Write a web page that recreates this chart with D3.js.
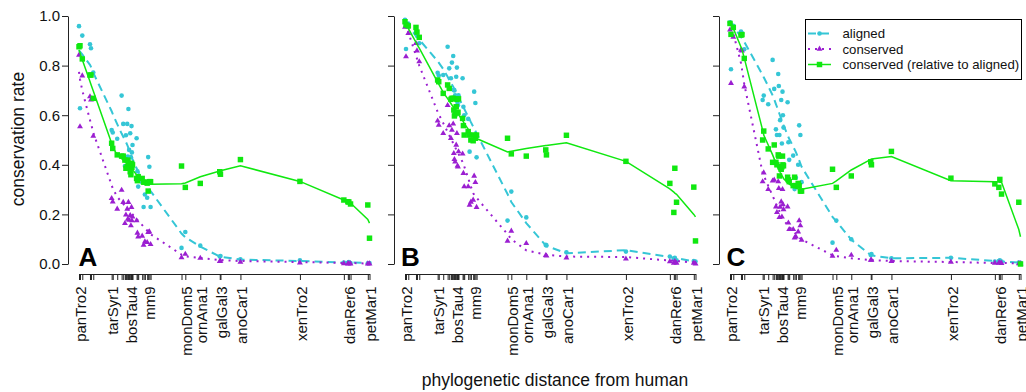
<!DOCTYPE html>
<html><head><meta charset="utf-8">
<script src="https://cdn.jsdelivr.net/npm/d3@7"></script>
<style>body{margin:0;background:#fff}svg{display:block}text{font-family:"Liberation Sans",Arial,Helvetica,sans-serif}</style>
</head><body><svg id="c" width="1026" height="392"></svg>
<script>
// ---------------- data ----------------
const species = ["panTro2","gorGor1","ponAbe2","rheMac2","papHam1","calJac1","tarSyr1","micMur1","otoGar1","tupBel1","speTri1","proCap1","oryCun2","cavPor3","vicPac1","turTru1","dasNov2","bosTau4","equCab2","choHof1","felCat3","canFam2","myoLuc1","pteVam1","loxAfr3","eriEur1","sorAra1","echTel1","ochPri2","mm9","dipOrd1","rn4","macEug1","monDom5","ornAna1","galGal3","taeGut1","anoCar1","xenTro2","tetNig2","danRer6","fr2","gasAcu1","oryLat2","petMar1"];
const distance = [0.010,0.020,0.043,0.120,0.130,0.153,0.337,0.348,0.393,0.437,0.453,0.470,0.480,0.493,0.499,0.505,0.512,0.523,0.530,0.536,0.540,0.546,0.587,0.595,0.603,0.643,0.657,0.670,0.693,0.703,0.715,0.727,1.037,1.075,1.225,1.420,1.427,1.627,2.223,2.663,2.703,2.713,2.730,2.903,2.920];
const labelledSpecies = ["panTro2","tarSyr1","bosTau4","mm9","monDom5","ornAna1","galGal3","anoCar1","xenTro2","danRer6","petMar1"];
const yTicks = [0,0.2,0.4,0.6,0.8,1.0];
const panelLetters = ["A","B","C"];
const legendLabels = ["aligned","conserved","conserved (relative to aligned)"];

// Panel A
const alignedA   = [.959,.628,.921,.886,.870,.772,.540,.530,.505,.679,.565,.395,.519,.565,.433,.625,.460,.527,.430,.556,.450,.480,.507,.374,.312,.330,.230,.280,.267,.431,.392,.230,.065,.129,.074,.030,.032,.019,.015,.006,.005,.008,.004,.003,.004];
const conservedA = [.843,.554,.759,.675,.662,.516,.265,.251,.222,.298,.249,.164,.198,.222,.181,.249,.177,.196,.155,.229,.175,.190,.175,.125,.110,.113,.076,.090,.087,.128,.130,.079,.026,.040,.024,.011,.012,.008,.005,.002,.001,.002,.001,.001,.001];
const relativeA  = [.876,.880,.827,.762,.762,.668,.487,.466,.440,.435,.435,.419,.386,.392,.419,.406,.386,.372,.360,.406,.390,.400,.345,.336,.352,.345,.330,.330,.326,.294,.332,.332,.395,.309,.325,.372,.362,.421,.333,.258,.251,.250,.242,.238,.104];
const alignedFitA   = [.862,.856,.845,.803,.795,.771,.616,.605,.564,.526,.513,.5,.492,.48,.474,.467,.46,.448,.44,.434,.43,.423,.386,.379,.372,.345,.336,.327,.313,.307,.3,.294,.123,.108,.07,.03,.029,.018,.012,.006,.006,.006,.006,.004,.003];
const conservedFitA = [.775,.745,.7,.58,.567,.53,.318,.305,.27,.25,.243,.235,.231,.226,.223,.22,.217,.212,.209,.206,.204,.2,.182,.178,.174,.157,.151,.145,.135,.131,.126,.12,.038,.031,.024,.016,.016,.012,.008,.004,.004,.004,.004,.002,.002];
const relativeFitA  = [.863,.852,.824,.736,.724,.698,.487,.47,.44,.425,.418,.412,.408,.402,.4,.397,.394,.39,.386,.384,.382,.38,.36,.357,.354,.34,.336,.332,.326,.324,.323,.322,.324,.327,.352,.375,.376,.396,.333,.258,.252,.25,.246,.18,.165];

// Panel B
const alignedB   = [.985,.867,.97,.935,.92,.89,.771,.76,.762,.876,.789,.749,.812,.839,.702,.70,.68,.755,.792,.65,.64,.68,.749,.634,.60,.585,.453,.50,.52,.695,.649,.43,.175,.292,.188,.077,.075,.047,.05,.03,.02,.025,.015,.012,.01];
const conservedB = [.955,.836,.93,.89,.86,.816,.577,.56,.527,.64,.558,.507,.54,.565,.446,.422,.412,.48,.527,.396,.392,.453,.444,.366,.312,.312,.238,.25,.258,.355,.329,.229,.093,.133,.083,.035,.033,.025,.021,.01,.004,.01,.004,.004,.001];
const relativeB  = [.977,.964,.96,.954,.935,.914,.742,.735,.688,.722,.708,.664,.668,.668,.621,.597,.606,.634,.664,.61,.612,.666,.587,.558,.52,.534,.52,.5,.497,.52,.507,.52,.507,.444,.435,.46,.44,.519,.414,.325,.208,.386,.249,.31,.093];
const alignedFitB   = [.975,.97,.958,.92,.915,.905,.818,.812,.786,.755,.742,.73,.724,.715,.71,.706,.7,.691,.685,.68,.677,.672,.639,.632,.626,.594,.583,.572,.554,.546,.536,.527,.282,.25,.165,.075,.073,.043,.056,.028,.025,.024,.023,.011,.01];
const conservedFitB = [.965,.957,.935,.84,.828,.8,.613,.604,.568,.532,.519,.505,.497,.487,.482,.477,.471,.462,.457,.452,.449,.444,.411,.404,.394,.346,.329,.313,.285,.28,.273,.267,.12,.1,.055,.038,.037,.03,.028,.014,.013,.013,.012,.006,.005];
const relativeFitB  = [.975,.968,.95,.894,.886,.87,.733,.725,.692,.667,.657,.647,.641,.634,.63,.627,.623,.618,.614,.61,.606,.602,.578,.573,.567,.544,.535,.527,.518,.514,.51,.506,.452,.455,.466,.478,.478,.489,.414,.303,.29,.286,.281,.2,.19];

// Panel C
const alignedC   = [.975,.785,.96,.937,.93,.866,.661,.679,.644,.823,.706,.543,.52,.766,.718,.52,.58,.661,.486,.695,.60,.55,.652,.491,.42,.437,.302,.348,.40,.559,.52,.33,.086,.175,.1,.036,.04,.023,.025,.01,.012,.015,.01,.006,.005];
const conservedC = [.944,.729,.915,.863,.86,.715,.332,.368,.301,.335,.339,.231,.208,.332,.305,.188,.23,.251,.19,.301,.24,.22,.231,.166,.14,.14,.106,.11,.13,.175,.155,.097,.032,.056,.036,.016,.016,.011,.008,.004,.004,.005,.003,.002,.001];
const relativeC  = [.97,.926,.954,.923,.925,.829,.5,.536,.464,.41,.48,.41,.40,.44,.435,.355,.392,.382,.392,.435,.40,.396,.35,.339,.332,.316,.35,.316,.325,.316,.294,.294,.382,.309,.355,.412,.40,.454,.346,.323,.309,.341,.282,.249,.0];
const alignedFitC   = [.98,.975,.96,.915,.91,.896,.762,.753,.717,.68,.664,.645,.634,.62,.613,.606,.598,.586,.578,.571,.567,.56,.519,.512,.505,.473,.462,.451,.429,.418,.405,.392,.19,.172,.098,.036,.035,.023,.025,.012,.011,.01,.01,.006,.005];
const conservedFitC = [.98,.965,.93,.81,.785,.725,.367,.357,.315,.275,.26,.244,.235,.223,.218,.212,.206,.196,.189,.184,.18,.176,.158,.154,.151,.133,.127,.121,.111,.107,.103,.099,.035,.032,.023,.016,.016,.012,.008,.004,.004,.004,.004,.003,.003];
const relativeFitC  = [.98,.97,.95,.875,.865,.83,.54,.52,.48,.44,.424,.405,.396,.386,.38,.376,.37,.362,.357,.352,.35,.345,.328,.325,.322,.313,.31,.306,.303,.302,.301,.301,.325,.335,.379,.422,.423,.433,.336,.332,.331,.33,.33,.139,.11];

// ---------------- layout ----------------
const svg = d3.select("#c");
const panelLeft = [79, 405, 730], panelWidth = 290.5;
const letterX = [78.5, 401, 726.5];
const yTop = 16, yBottom = 264, xAxisY = 274;
const FONT = '"Liberation Sans",Arial,Helvetica,sans-serif';
const col = {aligned:"#35c6d6", conserved:"#9b1fd1", relative:"#10e810"};
const y = d3.scaleLinear().domain([0,1]).range([yBottom, yTop]);
const labelSet = new Set(labelledSpecies);

const panels = [
  {aligned:alignedA, conserved:conservedA, relative:relativeA, aFit:alignedFitA, cFit:conservedFitA, rFit:relativeFitA},
  {aligned:alignedB, conserved:conservedB, relative:relativeB, aFit:alignedFitB, cFit:conservedFitB, rFit:relativeFitB},
  {aligned:alignedC, conserved:conservedC, relative:relativeC, aFit:alignedFitC, cFit:conservedFitC, rFit:relativeFitC}
];

const tri = d3.symbol().type(d3.symbolTriangle).size(15);
const sq = d3.symbol().type(d3.symbolSquare).size(30);

panels.forEach((p, i) => {
  const x = d3.scaleLinear().domain(d3.extent(distance)).range([panelLeft[i], panelLeft[i] + panelWidth]);
  const g = svg.append("g");

  // y axis
  const ya = g.append("g").attr("transform", `translate(${panelLeft[i]-11},0)`)
    .style("color", "#222")
    .call(d3.axisLeft(y).tickValues(yTicks).tickSize(6).tickSizeOuter(0).tickPadding(2)
      .tickFormat(i === 0 ? d3.format(".1f") : () => ""));
  ya.selectAll("text").attr("font-size", 15).attr("font-family", FONT).attr("fill", "#111");

  // x axis (rug of species)
  const xa = g.append("g").attr("transform", `translate(0,${xAxisY})`)
    .style("color", "#222")
    .call(d3.axisBottom(x).tickValues(distance).tickSize(6).tickSizeOuter(0)
      .tickFormat((d, j) => labelSet.has(species[j]) ? species[j] : ""));
  xa.selectAll("text")
    .attr("font-size", 15).attr("font-family", FONT).attr("fill", "#111")
    .attr("transform", "rotate(-90)").attr("text-anchor", "end")
    .attr("x", -12.5).attr("y", 0).attr("dy", "0.42em");

  const line = d3.line().x(d => x(d[0])).y(d => y(d[1]));
  const pts = arr => distance.map((d, j) => [d, arr[j]]);

  // aligned
  g.append("g").selectAll("circle").data(pts(p.aligned)).join("circle")
    .attr("cx", d => x(d[0])).attr("cy", d => y(d[1])).attr("r", 2.3).attr("fill", col.aligned);
  g.append("path").datum(pts(p.aFit)).attr("d", line).attr("fill", "none")
    .attr("stroke", col.aligned).attr("stroke-width", 2).attr("stroke-dasharray", "8,5");

  // conserved
  g.append("g").selectAll("path").data(pts(p.conserved)).join("path")
    .attr("d", tri).attr("transform", d => `translate(${x(d[0])},${y(d[1])})`).attr("fill", col.conserved);
  g.append("path").datum(pts(p.cFit)).attr("d", line).attr("fill", "none")
    .attr("stroke", col.conserved).attr("stroke-width", 2).attr("stroke-dasharray", "2,5");

  // relative
  g.append("g").selectAll("path").data(pts(p.relative)).join("path")
    .attr("d", sq).attr("transform", d => `translate(${x(d[0])},${y(d[1])})`).attr("fill", col.relative);
  g.append("path").datum(pts(p.rFit)).attr("d", line).attr("fill", "none")
    .attr("stroke", col.relative).attr("stroke-width", 1.5);

  // panel letter
  g.append("text").attr("x", letterX[i]).attr("y", 266).attr("font-size", 26).attr("font-weight", "bold")
    .attr("font-family", FONT).attr("fill", "#000").text(panelLetters[i]);
});

// axis titles
svg.append("text").attr("transform", "translate(18,139) rotate(-90)").attr("text-anchor", "middle")
  .attr("dominant-baseline", "central").attr("font-size", 17.5).attr("fill", "#111").text("conservation rate");
svg.append("text").attr("x", 555).attr("y", 386).attr("text-anchor", "middle")
  .attr("font-size", 17.5).attr("fill", "#111").text("phylogenetic distance from human");

// legend
const lg = svg.append("g");
lg.append("rect").attr("x", 805.5).attr("y", 19.5).attr("width", 216).attr("height", 60)
  .attr("fill", "#fff").attr("stroke", "#000").attr("stroke-width", 1);
const legY = [33.5, 49, 64.5];
const legKeys = ["aligned", "conserved", "relative"];
const legDash = ["8,5", "2,5", null];
legKeys.forEach((k, i) => {
  lg.append("line").attr("x1", 808).attr("x2", 831).attr("y1", legY[i]).attr("y2", legY[i])
    .attr("stroke", col[k]).attr("stroke-width", k === "relative" ? 1.5 : 2)
    .attr("stroke-dasharray", legDash[i]);
  if (k === "aligned") lg.append("circle").attr("cx", 819.5).attr("cy", legY[i]).attr("r", 2.3).attr("fill", col[k]);
  if (k === "conserved") lg.append("path").attr("d", tri).attr("transform", `translate(819.5,${legY[i]})`).attr("fill", col[k]);
  if (k === "relative") lg.append("path").attr("d", sq).attr("transform", `translate(819.5,${legY[i]})`).attr("fill", col[k]);
  lg.append("text").attr("x", 842.5).attr("y", legY[i]).attr("dominant-baseline", "central")
    .attr("font-size", 13.2).attr("fill", "#111").text(legendLabels[i]);
});
</script>
</body></html>
